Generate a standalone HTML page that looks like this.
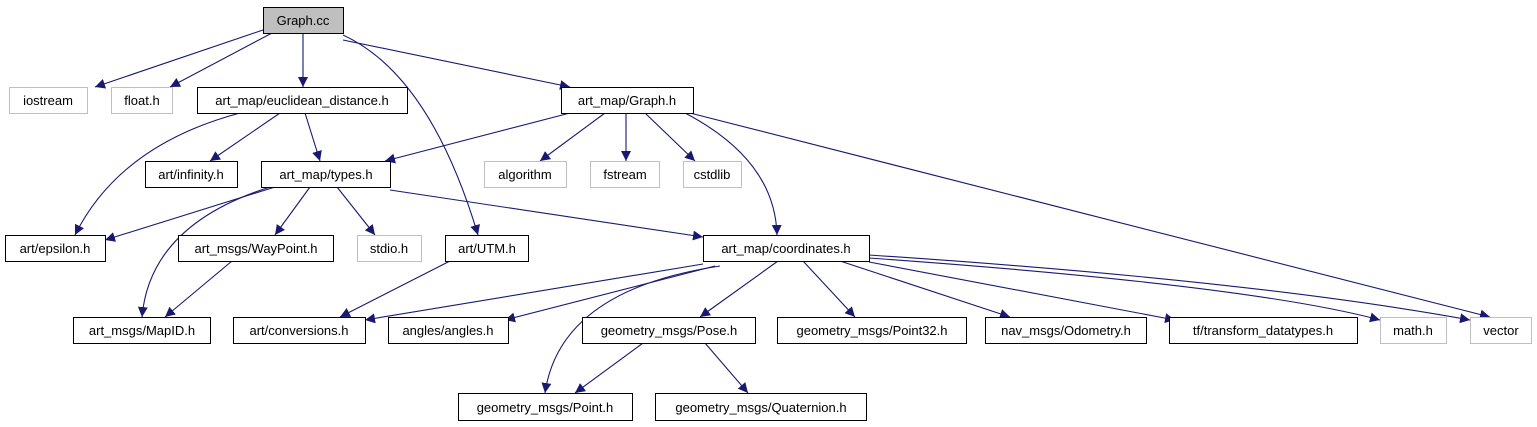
<!DOCTYPE html>
<html><head><meta charset="utf-8"><style>
html,body{margin:0;padding:0;background:#fff;}
svg{display:block;}
text{font-family:"Liberation Sans","DejaVu Sans",sans-serif;font-size:13px;fill:#000;}
</style></head><body>
<svg width="1537" height="427" viewBox="0 0 1537 427" xmlns="http://www.w3.org/2000/svg">
<defs>
<marker id="a" viewBox="0 0 10 10" refX="10" refY="5" markerWidth="10" markerHeight="10" markerUnits="userSpaceOnUse" orient="auto">
<path d="M0,0 L10,5 L0,10 z" fill="#191970"/>
</marker>
</defs>
<g fill="none" stroke="#191970" stroke-width="1.1" marker-end="url(#a)">
<path d="M263,30 L95,87"/>
<path d="M272,33 L170,87"/>
<path d="M303,33 L303,87"/>
<path d="M343,35 Q430,75 478,235"/>
<path d="M343,40 L570,87"/>
<path d="M240,113 Q120,145 75,235"/>
<path d="M280,113 L210,161"/>
<path d="M305,113 L320,161"/>
<path d="M570,113 L385,161"/>
<path d="M605,113 L540,161"/>
<path d="M626,113 L626,161"/>
<path d="M645,113 L695,161"/>
<path d="M685,113 Q775,160 777,235"/>
<path d="M690,113 L1490,317"/>
<path d="M275,187 L105,240"/>
<path d="M270,187 Q150,225 142,317"/>
<path d="M310,187 L275,235"/>
<path d="M337,187 L375,235"/>
<path d="M390,190 L703,237"/>
<path d="M450,261 L340,317"/>
<path d="M232,261 L165,317"/>
<path d="M703,264 L365,320"/>
<path d="M715,266 L505,320"/>
<path d="M720,266 Q560,290 545,393"/>
<path d="M778,261 L700,317"/>
<path d="M803,261 L855,317"/>
<path d="M840,261 L1010,317"/>
<path d="M869,262 L1175,320"/>
<path d="M869,258 Q1250,285 1380,320"/>
<path d="M869,255 Q1250,280 1470,320"/>
<path d="M643,343 L575,393"/>
<path d="M705,343 L748,393"/>
</g>
<g stroke-width="1" >
<rect x="263.5" y="7.5" width="80" height="26" fill="#bfbfbf" stroke="#000"/>
<!-- grey nodes -->
<g fill="#fff" stroke="#bfbfbf">
<rect x="9.5" y="87.5" width="78" height="26"/>
<rect x="111.5" y="87.5" width="61" height="26"/>
<rect x="484.5" y="161.5" width="82" height="26"/>
<rect x="590.5" y="161.5" width="69" height="26"/>
<rect x="683.5" y="161.5" width="58" height="26"/>
<rect x="357.5" y="235.5" width="64" height="26"/>
<rect x="1380.5" y="317.5" width="66" height="26"/>
<rect x="1470.5" y="317.5" width="61" height="26"/>
</g>
<g fill="#fff" stroke="#000">
<rect x="197.5" y="87.5" width="210" height="26"/>
<rect x="561.5" y="87.5" width="132" height="26"/>
<rect x="145.5" y="161.5" width="92" height="26"/>
<rect x="261.5" y="161.5" width="129" height="26"/>
<rect x="5.5" y="235.5" width="100" height="26"/>
<rect x="178.5" y="235.5" width="155" height="26"/>
<rect x="445.5" y="235.5" width="83" height="26"/>
<rect x="703.5" y="235.5" width="166" height="26"/>
<rect x="73.5" y="317.5" width="137" height="26"/>
<rect x="233.5" y="317.5" width="132" height="26"/>
<rect x="388.5" y="317.5" width="120" height="26"/>
<rect x="582.5" y="317.5" width="173" height="26"/>
<rect x="777.5" y="317.5" width="189" height="26"/>
<rect x="985.5" y="317.5" width="161" height="26"/>
<rect x="1169.5" y="317.5" width="188" height="26"/>
<rect x="458.5" y="393.5" width="174" height="27"/>
<rect x="655.5" y="393.5" width="211" height="27"/>
</g>
</g>
<g text-anchor="middle">
<text x="303" y="25">Graph.cc</text>
<text x="48" y="105">iostream</text>
<text x="142" y="105">float.h</text>
<text x="302" y="105">art_map/euclidean_distance.h</text>
<text x="627" y="105">art_map/Graph.h</text>
<text x="191" y="179">art/infinity.h</text>
<text x="326" y="179">art_map/types.h</text>
<text x="525" y="179">algorithm</text>
<text x="625" y="179">fstream</text>
<text x="712" y="179">cstdlib</text>
<text x="55" y="253">art/epsilon.h</text>
<text x="256" y="253">art_msgs/WayPoint.h</text>
<text x="389" y="253">stdio.h</text>
<text x="487" y="253">art/UTM.h</text>
<text x="786" y="253">art_map/coordinates.h</text>
<text x="142" y="335">art_msgs/MapID.h</text>
<text x="299" y="335">art/conversions.h</text>
<text x="448" y="335">angles/angles.h</text>
<text x="669" y="335">geometry_msgs/Pose.h</text>
<text x="872" y="335">geometry_msgs/Point32.h</text>
<text x="1066" y="335">nav_msgs/Odometry.h</text>
<text x="1263" y="335">tf/transform_datatypes.h</text>
<text x="1413" y="335">math.h</text>
<text x="1501" y="335">vector</text>
<text x="545" y="412">geometry_msgs/Point.h</text>
<text x="761" y="412">geometry_msgs/Quaternion.h</text>
</g>
</svg>
</body></html>
